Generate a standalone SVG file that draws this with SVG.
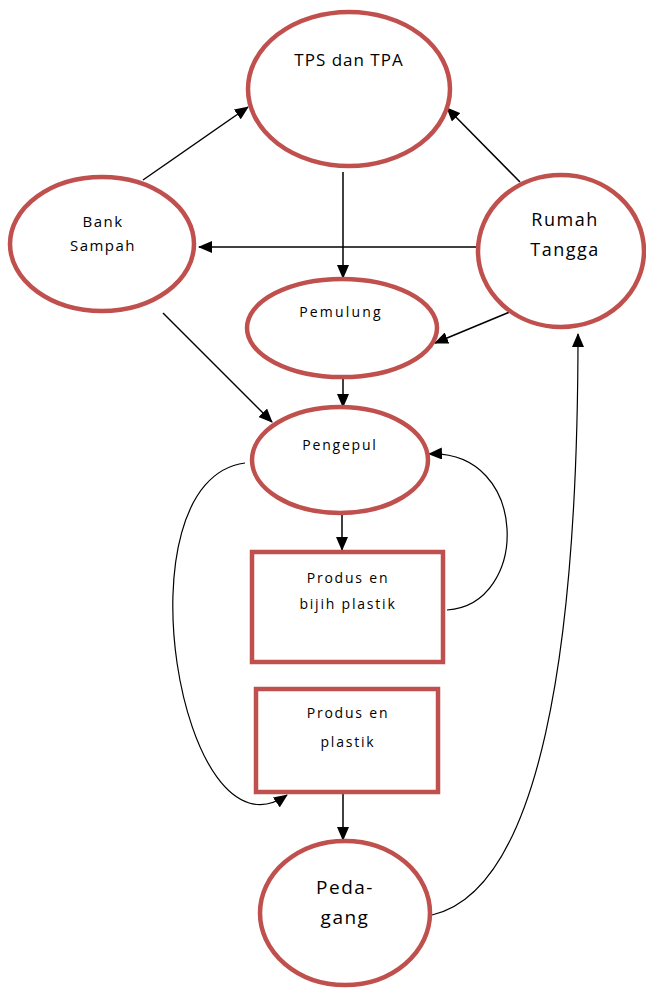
<svg xmlns="http://www.w3.org/2000/svg" width="646" height="991" viewBox="0 0 646 991">
<style>
.n{fill:#fff;stroke:#c0504d;stroke-width:4.5}
.t{font-family:"Open Sans","Liberation Sans",sans-serif;fill:#000;text-anchor:middle;letter-spacing:1.5px}
.s{font-size:14px;letter-spacing:1.8px}
.c{fill:none;stroke:#000;stroke-width:1.5;marker-end:url(#a)}
.cv{fill:none;stroke:#000;stroke-width:1.2;marker-end:url(#a)}
</style>
<defs>
<marker id="a" markerUnits="userSpaceOnUse" markerWidth="14" markerHeight="12" refX="13" refY="6" orient="auto">
<path d="M0,0 L14,6 L0,12 Z" fill="#000"/>
</marker>
</defs>
<g id="connectors">
<path class="c" d="M143,180 L248,107"/>
<path class="c" d="M520,182 L447,108"/>
<path class="c" d="M343,172 L343,278"/>
<path class="c" d="M486,247 L199,247"/>
<path class="c" d="M517,309 L435,343"/>
<path class="c" d="M163,313 L272,422"/>
<path class="c" d="M343,379 L343,407"/>
<path class="c" d="M342,514 L342,550"/>
<path class="c" d="M343,793 L343,840"/>
<path class="cv" d="M447,610 C530,605 530,450 429,454"/>
<path class="cv" d="M245,463 C115,480 180,870 287,795"/>
<path class="cv" d="M432,915 C540,890 578,650 578,334"/>
</g>
<g id="tps"><ellipse class="n" cx="349" cy="89" rx="101" ry="77"/><text class="t" x="349" y="66" font-size="17" style="letter-spacing:1px">TPS dan TPA</text></g>
<g id="bank"><ellipse class="n" cx="102" cy="244" rx="92" ry="67"/><text class="t" x="103" y="227" font-size="15">Bank</text><text class="t" x="103" y="251" font-size="15">Sampah</text></g>
<g id="rumah"><ellipse class="n" cx="561" cy="251" rx="83" ry="76"/><text class="t" x="565" y="226" font-size="18">Rumah</text><text class="t" x="565" y="256" font-size="18">Tangga</text></g>
<g id="pemulung"><ellipse class="n" cx="342" cy="328" rx="95" ry="49"/><text class="t s" x="341" y="317" style="letter-spacing:2.2px">Pemulung</text></g>
<g id="pengepul"><ellipse class="n" cx="340" cy="460" rx="88" ry="53"/><text class="t s" x="340" y="450">Pengepul</text></g>
<g id="bijih"><rect class="n" x="252" y="552" width="191" height="110" stroke-width="5"/><text class="t s" x="348" y="583">Produs en</text><text class="t s" x="348" y="609">bijih plastik</text></g>
<g id="plastik"><rect class="n" x="256" y="689" width="182" height="103" stroke-width="5"/><text class="t s" x="348" y="718">Produs en</text><text class="t s" x="348" y="747">plastik</text></g>
<g id="pedagang"><ellipse class="n" cx="345" cy="913" rx="85" ry="72"/><text class="t" x="345" y="894" font-size="19">Peda-</text><text class="t" x="345" y="924" font-size="19">gang</text></g>
</svg>
